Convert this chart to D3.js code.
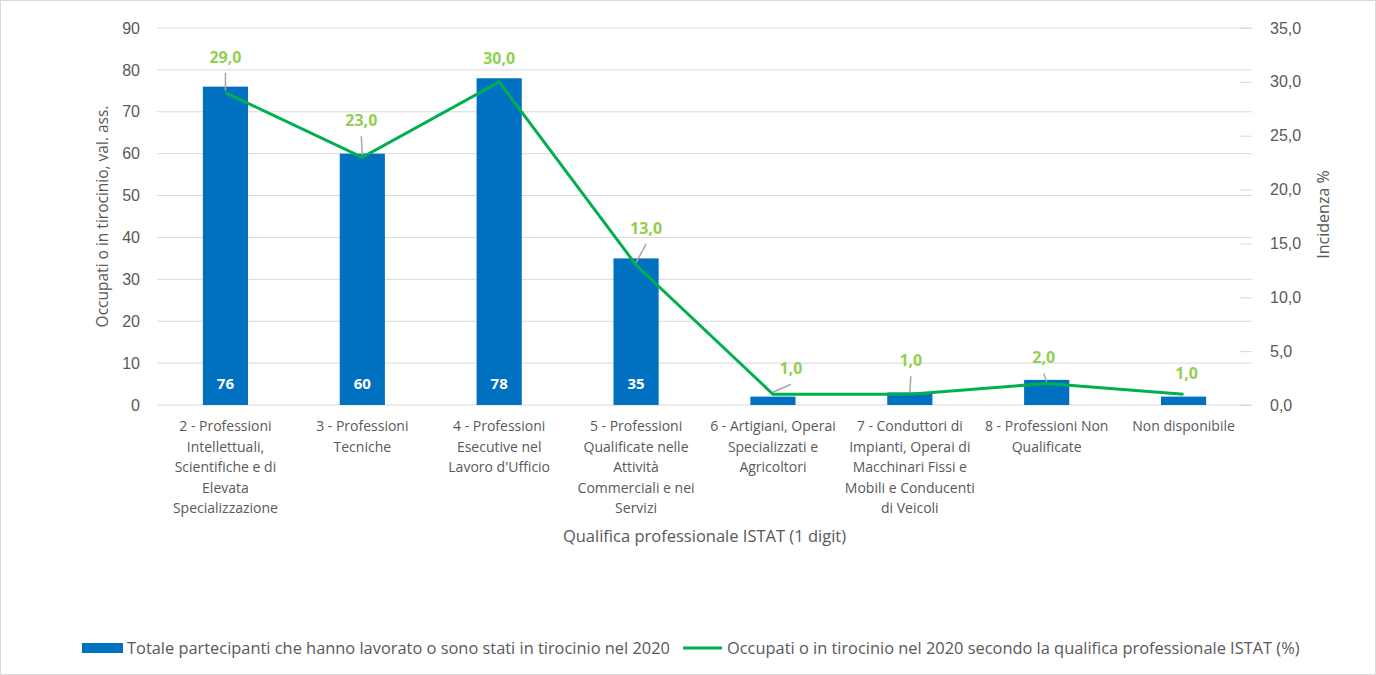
<!DOCTYPE html>
<html>
<head>
<meta charset="utf-8">
<script src="https://cdn.jsdelivr.net/npm/d3@7"></script>
<style>
  body { margin: 0; background: #fff; }
  svg { font-family: "Open Sans", Lato, sans-serif; }
  .axis text { fill: #595959; font-size: 16px; }
  .axis path { display: none; }
</style>
</head>
<body>
<svg width="1376" height="675"></svg>
<script>
var categories = [
  ["2 - Professioni", "Intellettuali,", "Scientifiche e di", "Elevata", "Specializzazione"],
  ["3 - Professioni", "Tecniche"],
  ["4 - Professioni", "Esecutive nel", "Lavoro d'Ufficio"],
  ["5 - Professioni", "Qualificate nelle", "Attività", "Commerciali e nei", "Servizi"],
  ["6 - Artigiani, Operai", "Specializzati e", "Agricoltori"],
  ["7 - Conduttori di", "Impianti, Operai di", "Macchinari Fissi e", "Mobili e Conducenti", "di Veicoli"],
  ["8 - Professioni Non", "Qualificate"],
  ["Non disponibile"]
];
var totali = [76, 60, 78, 35, 2, 3, 6, 2];
var incidenza = [29, 23, 30, 13, 1, 1, 2, 1];
var leftTicks = [0, 10, 20, 30, 40, 50, 60, 70, 80, 90];
var rightTicks = [0, 5, 10, 15, 20, 25, 30, 35];

var barName = "Totale partecipanti che hanno lavorato o sono stati in tirocinio nel 2020";
var lineName = "Occupati o in tirocinio nel 2020 secondo la qualifica professionale ISTAT (%)";

// label placement (dx, dy from point; leader = draw gray connector)
var labelPos = [
  {dx: 0, dy: -36, leader: true},
  {dx: -1, dy: -37, leader: true},
  {dx: 0, dy: -24, leader: false},
  {dx: 10, dy: -37, leader: true},
  {dx: 18, dy: -26, leader: true},
  {dx: 1, dy: -34, leader: true},
  {dx: -3, dy: -26, leader: true},
  {dx: 3, dy: -21, leader: false}
];

var svg = d3.select("svg"),
    margin = {top: 28, right: 124, bottom: 270, left: 157},
    width = 1376 - margin.left - margin.right,
    height = 675 - margin.top - margin.bottom;

svg.append("rect")
  .attr("x", 0.5).attr("y", 0.5)
  .attr("width", 1375).attr("height", 674)
  .attr("fill", "#fff").attr("stroke", "#d9d9d9");

var g = svg.append("g")
  .attr("transform", "translate(" + margin.left + "," + margin.top + ")");

var x = d3.scaleBand().domain(d3.range(categories.length)).range([0, width]).paddingInner(0.67).paddingOuter(0.335);
var y = d3.scaleLinear().domain([0, 90]).range([height, 0]);
var y2 = d3.scaleLinear().domain([0, 35]).range([height, 0]);

// gridlines
g.selectAll(".grid")
  .data(leftTicks)
  .enter().append("line")
    .attr("x1", 0).attr("x2", width)
    .attr("y1", function(d) { return y(d); })
    .attr("y2", function(d) { return y(d); })
    .attr("stroke", "#d9d9d9").attr("stroke-width", 1);

// left axis
var yAxis = d3.axisLeft(y).tickValues(leftTicks).tickSize(0).tickPadding(17);
g.append("g").attr("class", "axis").call(yAxis);

// right axis
var fmt = function(d) { return d3.format(".1f")(d).replace(".", ","); };
var yAxis2 = d3.axisRight(y2).tickValues(rightTicks).tickSize(-12).tickPadding(18).tickFormat(fmt);
var ra = g.append("g").attr("class", "axis").attr("transform", "translate(" + width + ",0)").call(yAxis2);
ra.selectAll(".tick line").attr("stroke", "#d9d9d9");

// bars
g.selectAll(".bar")
  .data(totali)
  .enter().append("rect")
    .attr("x", function(d, i) { return x(i); })
    .attr("y", function(d) { return y(d); })
    .attr("width", x.bandwidth())
    .attr("height", function(d) { return height - y(d); })
    .attr("fill", "#0070C0");

g.selectAll(".barlabel")
  .data(totali)
  .enter().filter(function(d) { return d >= 10; }).append("text")
    .attr("x", function(d, i) { return x(i) + x.bandwidth() / 2; })
    .attr("y", height - 16)
    .attr("text-anchor", "middle")
    .attr("fill", "#fff")
    .attr("font-weight", "bold")
    .attr("font-size", "15px")
    .text(function(d) { return d; });

// line
var cx = function(i) { return x(i) + x.bandwidth() / 2; };
var line = d3.line()
  .x(function(d, i) { return cx(i); })
  .y(function(d) { return y2(d); });

g.append("path")
  .datum(incidenza)
  .attr("d", line)
  .attr("fill", "none")
  .attr("stroke", "#00B050")
  .attr("stroke-width", 3);

// leader lines and labels
incidenza.forEach(function(d, i) {
  var p = labelPos[i], px = cx(i), py = y2(d);
  if (p.leader) {
    g.append("line")
      .attr("x1", px + p.dx).attr("y1", py + p.dy + 16)
      .attr("x2", px).attr("y2", py - 2)
      .attr("stroke", "#a6a6a6").attr("stroke-width", 1.5);
  }
  g.append("text")
    .attr("x", px + p.dx)
    .attr("y", py + p.dy + 6)
    .attr("text-anchor", "middle")
    .attr("fill", "#92D050")
    .attr("font-weight", "bold")
    .attr("font-size", "16px")
    .text(fmt(d));
});

// category labels
categories.forEach(function(lines, i) {
  var t = g.append("text")
    .attr("x", cx(i))
    .attr("y", height + 26)
    .attr("text-anchor", "middle")
    .attr("fill", "#595959")
    .attr("font-size", "14px");
  lines.forEach(function(s, j) {
    t.append("tspan").attr("x", cx(i)).attr("dy", j === 0 ? 0 : 20.5).text(s);
  });
});

// axis titles
g.append("text")
  .attr("x", width / 2).attr("y", height + 137)
  .attr("text-anchor", "middle").attr("fill", "#595959").attr("font-size", "16.5px")
  .text("Qualifica professionale ISTAT (1 digit)");

g.append("text")
  .attr("transform", "translate(" + (-49) + "," + (height / 2) + ")rotate(-90)")
  .attr("text-anchor", "middle").attr("fill", "#595959").attr("font-size", "15.5px")
  .text("Occupati o in tirocinio, val. ass.");

g.append("text")
  .attr("transform", "translate(" + (width + 77) + "," + (height / 2 - 2) + ")rotate(-90)")
  .attr("text-anchor", "middle").attr("fill", "#595959").attr("font-size", "16px")
  .text("Incidenza %");

// legend
var lg = svg.append("g").attr("transform", "translate(82,648)");
lg.append("rect").attr("x", 0).attr("y", -5).attr("width", 41).attr("height", 10).attr("fill", "#0070C0");
lg.append("text").attr("x", 45).attr("y", 5.5).attr("fill", "#595959").attr("font-size", "16.4px").text(barName);
lg.append("line").attr("x1", 601).attr("x2", 640).attr("y1", 0).attr("y2", 0).attr("stroke", "#00B050").attr("stroke-width", 3);
lg.append("text").attr("x", 645).attr("y", 5.5).attr("fill", "#595959").attr("font-size", "16.4px").text(lineName);
</script>
</body>
</html>
